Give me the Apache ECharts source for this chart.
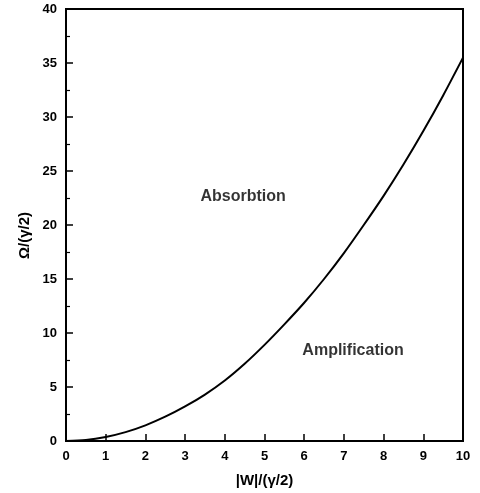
<!DOCTYPE html>
<html><head><meta charset="utf-8">
<script src="https://cdn.jsdelivr.net/npm/echarts@6/dist/echarts.min.js"></script>
<style>html,body{margin:0;padding:0;background:#fff}#c{width:480px;height:493px}</style>
</head><body><div id="c"></div>
<script>
const xValues = [0,0.5,1,1.5,2,2.5,3,3.5,4,4.5,5,5.5,6,6.5,7,7.5,8,8.5,9,9.5,10];
const yValues = [0,0.09,0.37,0.82,1.45,2.25,3.2,4.3,5.6,7.15,8.9,10.8,12.8,15.0,17.4,20.0,22.7,25.6,28.7,32.0,35.5];
const regionLabels = ['Absorbtion','Amplification'];
const regionX = [4.46, 7.23];
const regionY = [22.6, 8.4];
const xTitle = '|W|/(\u03B3/2)';
const yTitle = '\u03A9/(\u03B3/2)';

const curve = xValues.map((x,i)=>[x,yValues[i]]);
const labelPts = regionLabels.map((t,i)=>({value:[regionX[i],regionY[i]], label:{formatter:t}}));

const font = 'Liberation Sans, Arial, sans-serif';
const chart = echarts.init(document.getElementById('c'), null, {renderer:'canvas'});
chart.setOption({
  animation:false,
  backgroundColor:'#fff',
  grid:{left:66, right:17, top:9, bottom:52, show:true, borderColor:'#000', borderWidth:2, backgroundColor:'transparent'},
  graphic:[{type:'text', left:17, top:212, rotation:Math.PI/2,
    style:{text:yTitle, fill:'#000', font:'bold 15px ' + font}}],
  xAxis:{type:'value', min:0, max:10, interval:1,
    name:xTitle, nameLocation:'middle', nameGap:32,
    nameTextStyle:{color:'#000', fontSize:15, fontWeight:'bold', fontFamily:font},
    axisLine:{lineStyle:{color:'#000', width:2}},
    axisTick:{inside:true, length:7, lineStyle:{color:'#000', width:1.5}},
    axisLabel:{color:'#000', fontSize:13, fontWeight:'bold', fontFamily:font, margin:9},
    splitLine:{show:false}},
  yAxis:{type:'value', min:0, max:40, interval:5,
    axisLine:{lineStyle:{color:'#000', width:2}},
    axisTick:{inside:true, length:7, lineStyle:{color:'#000', width:1.5}},
    minorTick:{show:true, splitNumber:2, length:4, lineStyle:{color:'#000', width:1.2}},
    axisLabel:{color:'#000', fontSize:13, fontWeight:'bold', fontFamily:font, margin:9},
    splitLine:{show:false}},
  series:[
    {type:'line', data:curve, smooth:0.3, symbol:'none', lineStyle:{color:'#000', width:2}},
    {type:'scatter', data:labelPts, symbolSize:0,
      label:{show:true, position:'inside', color:'#000', fontSize:16, fontWeight:'bold', fontFamily:font}}
  ]
});
</script></body></html>
